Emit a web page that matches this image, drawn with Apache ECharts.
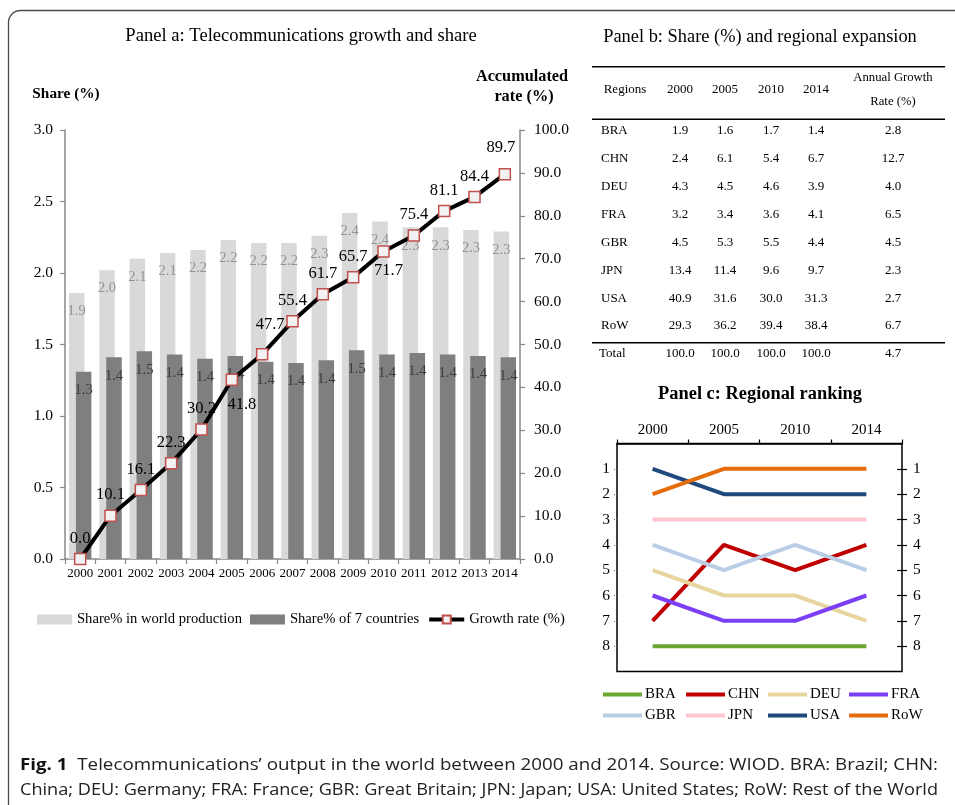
<!DOCTYPE html>
<html><head><meta charset="utf-8">
<script src="https://cdn.jsdelivr.net/npm/echarts@6/dist/echarts.min.js"></script>
<style>html,body{margin:0;padding:0;background:#fff}#c{width:955px;height:805px}</style>
</head><body><div id="c"></div>
<script>
// ---------- Panel a data ----------
const years = ['2000','2001','2002','2003','2004','2005','2006','2007','2008','2009','2010','2011','2012','2013','2014'];
const worldShare = [1.86,2.02,2.10,2.14,2.16,2.23,2.21,2.21,2.26,2.42,2.36,2.32,2.32,2.30,2.29];
const sevenShare = [1.31,1.41,1.452,1.43,1.40,1.42,1.38,1.37,1.39,1.46,1.43,1.44,1.43,1.42,1.41];
const growthRate = [0.0,10.1,16.1,22.3,30.2,41.8,47.7,55.4,61.7,65.7,71.7,75.4,81.1,84.4,89.7];
const shareTicks = [0, 3, 0.5];
const rateTicks = [0, 100, 10];

// ---------- Panel b data ----------
const regions = ['BRA','CHN','DEU','FRA','GBR','JPN','USA','RoW'];
const tableYears = ['2000','2005','2010','2014'];
const share2000 = [1.9,2.4,4.3,3.2,4.5,13.4,40.9,29.3];
const share2005 = [1.6,6.1,4.5,3.4,5.3,11.4,31.6,36.2];
const share2010 = [1.7,5.4,4.6,3.6,5.5,9.6,30.0,39.4];
const share2014 = [1.4,6.7,3.9,4.1,4.4,9.7,31.3,38.4];
const annualGrowth = [2.8,12.7,4.0,6.5,4.5,2.3,2.7,6.7];
const totalRow = [100.0,100.0,100.0,100.0,4.7];

// ---------- Panel c data ----------
const rankYears = ['2000','2005','2010','2014'];
const rankBRA = [8,8,8,8];
const rankCHN = [7,4,5,4];
const rankDEU = [5,6,6,7];
const rankFRA = [6,7,7,6];
const rankGBR = [4,5,4,5];
const rankJPN = [3,3,3,3];
const rankUSA = [1,2,2,2];
const rankRoW = [2,1,1,1];
const rankTicks = [1,2,3,4,5,6,7,8];

// ---------- styling ----------
const SERIF = 'Liberation Serif';
const rankSeriesDefs = [
  ['BRA', rankBRA, '#6aa832'],
  ['CHN', rankCHN, '#c00000'],
  ['DEU', rankDEU, '#e9d59f'],
  ['FRA', rankFRA, '#7b3ff5'],
  ['GBR', rankGBR, '#b9cde5'],
  ['JPN', rankJPN, '#ffc6cf'],
  ['USA', rankUSA, '#1f487c'],
  ['RoW', rankRoW, '#e46c0a']
];
const lineLabelPlacement = {
  5: {position: 'bottom', offset: [10, 4]},
  6: {offset: [8, -9]},
  10: {position: 'bottom', offset: [5, -1]},
  14: {offset: [-4, -6]}
};

const chart = echarts.init(document.getElementById('c'), null, {renderer: 'canvas'});

const graphics = [];
// frame (right/bottom edges fall outside the canvas)
graphics.push({type: 'rect', shape: {x: 8.5, y: 10.5, width: 1200, height: 1200, r: [12, 0, 0, 0]},
  style: {fill: 'none', stroke: '#4a4a4a', lineWidth: 1.3}, silent: true});
function txt(x, y, text, opt) {
  graphics.push({type: 'text', x: x, y: y, style: Object.assign({
    text: text, fontFamily: SERIF, fontSize: 13, fill: '#000', align: 'center', verticalAlign: 'middle'
  }, opt || {})});
}
// panel a titles
txt(301, 36, 'Panel a: Telecommunications growth and share', {fontSize: 18.6});
txt(66, 94, 'Share (%)', {fontSize: 15.3, fontWeight: 'bold'});
txt(522, 77, 'Accumulated', {fontSize: 16.3, fontWeight: 'bold'});
txt(524, 97, 'rate (%)', {fontSize: 16.3, fontWeight: 'bold'});
// panel b
txt(760, 37, 'Panel b: Share (%) and regional expansion', {fontSize: 18.4});
function rule(y) {
  graphics.push({type: 'line', shape: {x1: 592, y1: y, x2: 945, y2: y}, style: {stroke: '#000', lineWidth: 1.4}});
}
rule(66.7); rule(119.3); rule(342.7);
const colX = [680, 725, 771, 816];
const agrX = 893;
txt(625, 90, 'Regions');
tableYears.forEach((y, j) => txt(colX[j], 90, y));
txt(agrX, 78, 'Annual Growth', {fontSize: 12.7});
txt(agrX, 102, 'Rate (%)', {fontSize: 12.7});
const rowY0 = 131, rowStep = 27.85;
const cols = [share2000, share2005, share2010, share2014];
regions.forEach((r, i) => {
  const y = rowY0 + i * rowStep;
  txt(601, y, r, {align: 'left'});
  cols.forEach((c, j) => txt(colX[j], y, c[i].toFixed(1)));
  txt(agrX, y, annualGrowth[i].toFixed(1));
});
txt(599, 354, 'Total', {align: 'left'});
totalRow.slice(0, 4).forEach((v, j) => txt(colX[j], 354, v.toFixed(1)));
txt(agrX, 354, totalRow[4].toFixed(1));
// panel c title
txt(760, 394, 'Panel c: Regional ranking', {fontSize: 18.4, fontWeight: 'bold'});

// caption with width fitting
const capLine1Rest = '  Telecommunications’ output in the world between 2000 and 2014. Source: WIOD. BRA: Brazil; CHN:';
const capLine2 = 'China; DEU: Germany; FRA: France; GBR: Great Britain; JPN: Japan; USA: United States; RoW: Rest of the World';
const CAP_FS = 16.5;
const cv = document.createElement('canvas').getContext('2d');
cv.font = 'bold ' + CAP_FS + 'px "Open Sans"';
const wFig = cv.measureText('Fig. 1').width;
cv.font = CAP_FS + 'px "Open Sans"';
const w1 = wFig + cv.measureText(capLine1Rest).width;
const w2 = cv.measureText(capLine2).width;
const capW = 918;
graphics.push({type: 'text', x: 20, y: 765, scaleX: capW / w1, style: {
  text: '{b|Fig. 1}{n|' + capLine1Rest + '}', verticalAlign: 'middle', align: 'left',
  rich: {b: {fontFamily: 'Open Sans', fontSize: CAP_FS, fontWeight: 'bold', fill: '#111'},
         n: {fontFamily: 'Open Sans', fontSize: CAP_FS, fill: '#222'}}
}});
graphics.push({type: 'text', x: 20, y: 790, scaleX: capW / w2, style: {
  text: capLine2, fontFamily: 'Open Sans', fontSize: CAP_FS, fill: '#222', verticalAlign: 'middle', align: 'left'
}});

const axisGray = '#888888';
const option = {
  animation: false,
  backgroundColor: '#fff',
  textStyle: {fontFamily: SERIF},
  grid: [
    {left: 65, top: 130, width: 455, height: 429},
    {left: 617, top: 443.5, width: 285, height: 228, show: true, borderColor: '#000', borderWidth: 1.5, backgroundColor: 'transparent'}
  ],
  xAxis: [
    {type: 'category', gridIndex: 0, data: years, boundaryGap: true,
     axisLine: {lineStyle: {color: axisGray, width: 1.5}},
     axisTick: {show: true, interval: 0, length: 5, lineStyle: {color: axisGray, width: 1.2}},
     axisLabel: {color: '#000', fontSize: 13, fontFamily: SERIF, margin: 8, interval: 0}},
    {type: 'category', gridIndex: 1, data: rankYears, position: 'top', boundaryGap: true,
     axisLine: {lineStyle: {color: '#000', width: 1.5}},
     axisTick: {show: true, interval: 0, length: 4, lineStyle: {color: '#000', width: 1.2}},
     axisLabel: {color: '#000', fontSize: 15, fontFamily: SERIF, margin: 6}}
  ],
  yAxis: [
    {type: 'value', gridIndex: 0, position: 'left', min: shareTicks[0], max: shareTicks[1], interval: shareTicks[2],
     splitLine: {show: false},
     axisLine: {show: true, lineStyle: {color: axisGray, width: 1.5}},
     axisTick: {show: true, length: 5, lineStyle: {color: axisGray, width: 1.2}},
     axisLabel: {color: '#000', fontSize: 15.5, fontFamily: SERIF, margin: 12, formatter: v => v.toFixed(1)}},
    {type: 'value', gridIndex: 0, position: 'right', min: rateTicks[0], max: rateTicks[1], interval: rateTicks[2],
     splitLine: {show: false},
     axisLine: {show: true, lineStyle: {color: axisGray, width: 1.5}},
     axisTick: {show: true, length: 5, lineStyle: {color: axisGray, width: 1.2}},
     axisLabel: {color: '#000', fontSize: 15.5, fontFamily: SERIF, margin: 14, formatter: v => v.toFixed(1)}},
    {type: 'value', gridIndex: 1, position: 'left', inverse: true, min: 0, max: 9,
     splitLine: {show: false},
     axisLine: {show: false},
     axisTick: {show: true, length: 4, customValues: rankTicks, lineStyle: {color: '#666', type: 'dotted', width: 1}},
     axisLabel: {color: '#000', fontSize: 15.5, fontFamily: SERIF, margin: 7, customValues: rankTicks}},
    {type: 'value', gridIndex: 1, position: 'right', inverse: true, min: 0, max: 9,
     splitLine: {show: false},
     axisLine: {show: false},
     axisTick: {show: true, length: 5, customValues: rankTicks, lineStyle: {color: '#000', width: 1.2}},
     axisLabel: {color: '#000', fontSize: 15.5, fontFamily: SERIF, margin: 11, customValues: rankTicks}},
    {type: 'value', gridIndex: 1, position: 'right', inverse: true, min: 0, max: 9,
     splitLine: {show: false},
     axisLine: {show: false},
     axisTick: {show: true, inside: true, length: 5, customValues: rankTicks, lineStyle: {color: '#000', width: 1.2}},
     axisLabel: {show: false}}
  ],
  legend: [
    {left: 32, top: 607, itemWidth: 35, itemHeight: 10, itemGap: 8,
     textStyle: {fontFamily: SERIF, fontSize: 14.6, color: '#000'},
     lineStyle: {width: 4},
     data: [{name: 'Share% in world production', icon: 'rect'}, {name: 'Share% of 7 countries', icon: 'rect'}, {name: 'Growth rate (%)'}]},
    ...[[0, 4], [1, 5], [2, 6], [3, 7]].map((pair, k) => ({
      orient: 'vertical', left: [598, 681, 763, 844][k], top: 682, itemWidth: 39, itemHeight: 4, itemGap: 6,
      icon: 'rect',
      textStyle: {fontFamily: SERIF, fontSize: 15, color: '#000', padding: [0, 0, 0, -2]},
      data: pair.map(p => rankSeriesDefs[p][0])
    }))
  ],
  graphic: graphics,
  series: [
    {name: 'Share% in world production', type: 'bar', xAxisIndex: 0, yAxisIndex: 0, data: worldShare,
     barWidth: 15.5, barGap: '-55%', itemStyle: {color: '#d9d9d9'},
     label: {show: true, position: 'insideTop', distance: 11, color: '#939393', fontSize: 14.5, fontFamily: SERIF,
             formatter: p => p.value.toFixed(1)}},
    {name: 'Share% of 7 countries', type: 'bar', xAxisIndex: 0, yAxisIndex: 0, data: sevenShare,
     barWidth: 15.5, barGap: '-55%', itemStyle: {color: '#7f7f7f'},
     label: {show: true, position: 'insideTop', distance: 11, color: '#3c3c3c', fontSize: 14.5, fontFamily: SERIF,
             formatter: p => p.value.toFixed(1)}},
    {name: 'Growth rate (%)', type: 'line', xAxisIndex: 0, yAxisIndex: 1,
     data: growthRate.map((v, i) => lineLabelPlacement[i] ? {value: v, label: lineLabelPlacement[i]} : v),
     symbol: 'rect', symbolSize: 11, z: 5,
     lineStyle: {color: '#000', width: 4},
     itemStyle: {color: '#f2f2f2', borderColor: '#c0504d', borderWidth: 1.5},
     label: {show: true, position: 'top', distance: 6, color: '#000', fontSize: 16.5, fontFamily: SERIF,
             formatter: p => p.value.toFixed(1)}},
    ...rankSeriesDefs.map(([name, data, color]) => ({
      name: name, type: 'line', xAxisIndex: 1, yAxisIndex: 2, data: data,
      symbol: 'none', lineStyle: {color: color, width: 4}, itemStyle: {color: color}
    }))
  ]
};
chart.setOption(option);
</script>
</body></html>
